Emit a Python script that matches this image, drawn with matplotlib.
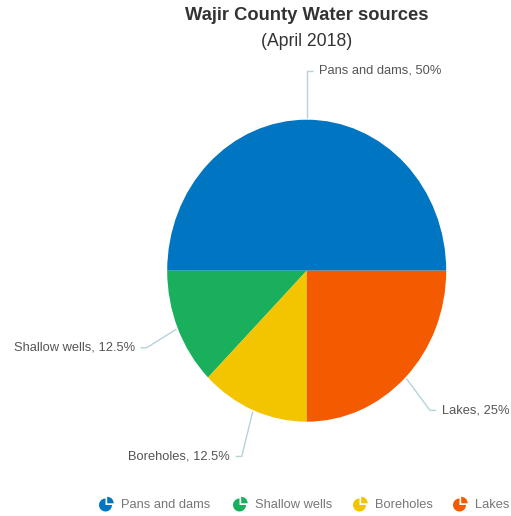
import matplotlib.pyplot as plt
import numpy as np
from matplotlib.patches import Wedge

plt.rcParams['font.family'] = ['Liberation Sans', 'DejaVu Sans']

sources = ['Pans and dams', 'Shallow wells', 'Boreholes', 'Lakes']
shares = [50, 12.5, 12.5, 25]
colors = ['#0075c2', '#1aaf5d', '#f2c500', '#f45b00']

W, H = 511, 516
fig = plt.figure(figsize=(W / 100, H / 100), dpi=100)

# pie axes (the reference pie is slightly taller than wide)
cx, cy, rx, ry = 306.7, 270.7, 139.5, 151
ax = fig.add_axes([(cx - rx) / W, (H - cy - ry) / H, 2 * rx / W, 2 * ry / H])
wedges, _ = ax.pie(shares, colors=colors, startangle=0, counterclock=True,
                   wedgeprops=dict(linewidth=0))
ax.set_aspect('auto')
ax.set_xlim(-1, 1)
ax.set_ylim(-1, 1)
ax.axis('off')

line_col = '#b5d3dc'
# elbow points of the leader lines (axes units)
elbows = {'Pans and dams': (0.0, 1.325), 'Shallow wells': (-1.147, -0.51),
          'Boreholes': (-0.466, -1.23), 'Lakes': (0.884, -0.925)}
stub = 6 / rx
gap = 6 / rx
for w, name, val in zip(wedges, sources, shares):
    ang = np.deg2rad((w.theta1 + w.theta2) / 2)
    c, s = np.cos(ang), np.sin(ang)
    ex, ey = elbows[name]
    side = 1 if ex >= 0 else -1
    ax.plot([1.01 * c, ex, ex + side * stub], [1.01 * s, ey, ey], color=line_col,
            lw=1, clip_on=False, solid_capstyle='butt')
    lbl = f"{name}, {val:g}%"
    ax.text(ex + side * (stub + gap), ey, lbl, ha='left' if side > 0 else 'right',
            va='center', fontsize=9.3, color='#555555', clip_on=False)

fig.text(cx / W, 1 - 16 / H, 'Wajir County Water sources', ha='center', va='center',
         fontsize=13.2, fontweight='bold', color='#333333')
fig.text(cx / W, 1 - 41 / H, '(April 2018)', ha='center', va='center',
         fontsize=12.7, color='#333333')

# legend with small pie icons
lg = fig.add_axes([0, 0, 1, 1])
lg.set_xlim(0, W)
lg.set_ylim(0, H)
lg.axis('off')
icon_x = [106, 240, 360, 460]
ly = H - 504.5
for x, name, col in zip(icon_x, sources, colors):
    lg.add_patch(Wedge((x - 0.5, ly - 0.5), 6.5, 90, 360, color=col, lw=0))
    lg.add_patch(Wedge((x + 1.2, ly + 1.2), 6.5, 0, 90, color=col, lw=0))
    lg.text(x + 15, ly - 1, name, ha='left', va='center', fontsize=9.3, color='#777777')

fig.savefig('out.png', dpi=100)
